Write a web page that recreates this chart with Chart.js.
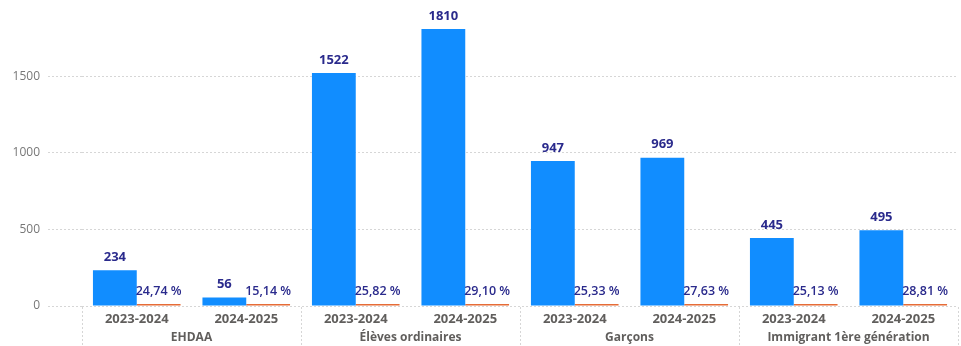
<!DOCTYPE html>
<html>
<head>
<meta charset="utf-8">
<script src="https://cdn.jsdelivr.net/npm/chart.js@4"></script>
<style>
  html, body { margin: 0; padding: 0; background: #ffffff; }
  #wrap { width: 961px; height: 346px; }
</style>
</head>
<body>
<div id="wrap"><canvas id="c" width="961" height="346"></canvas></div>
<script>
// Student counts and share per school year, by group
const years = ['2023-2024', '2024-2025', '2023-2024', '2024-2025', '2023-2024', '2024-2025', '2023-2024', '2024-2025'];
const groups = ['EHDAA', 'Élèves ordinaires', 'Garçons', 'Immigrant 1ère génération'];
const counts = [234, 56, 1522, 1810, 947, 969, 445, 495];
const shares = [0.2474, 0.1514, 0.2582, 0.2910, 0.2533, 0.2763, 0.2513, 0.2881];
const yTicks = [0, 500, 1000, 1500];

const BLUE = '#118DFF';
const ORANGE = '#E66C37';
const LABEL = '#2a2a8c';
const AXIS = '#605E5C';
const GRID = '#d6d6d6';
const FONT = '"Open Sans", "Noto Sans", sans-serif';

const fmtShare = v => (v * 100).toFixed(2).replace('.', ',') + ' %';

// Value labels above each bar
const barLabels = {
  id: 'barLabels',
  afterDatasetsDraw(chart) {
    const ctx = chart.ctx;
    ctx.save();
    ctx.textAlign = 'center';
    ctx.textBaseline = 'middle';
    chart.data.datasets.forEach((ds, di) => {
      const meta = chart.getDatasetMeta(di);
      meta.data.forEach((bar, i) => {
        const isShare = di === 1;
        ctx.font = isShare ? '600 12.5px ' + FONT : 'bold 13px ' + FONT;
        ctx.fillStyle = LABEL;
        const text = isShare ? fmtShare(ds.data[i]) : String(ds.data[i]);
        ctx.fillText(text, bar.x, Math.min(bar.y, bar.base) - 13);
      });
    });
    ctx.restore();
  }
};

// Dotted separators between the outer category groups
const groupSeparators = {
  id: 'groupSeparators',
  afterDraw(chart) {
    const xs = chart.scales.x;
    const ctx = chart.ctx;
    const n = years.length;
    const step = (xs.right - xs.left) / n;
    const bottom = chart.chartArea.bottom;
    ctx.save();
    ctx.strokeStyle = GRID;
    ctx.lineWidth = 1;
    ctx.setLineDash([2, 2]);
    for (let g = 0; g <= groups.length; g++) {
      const idx = g * 2;
      const x = idx < n ? xs.getPixelForValue(idx) - step / 2 : xs.getPixelForValue(n - 1) + step / 2;
      const px = Math.round(x) + 0.5;
      ctx.beginPath();
      ctx.moveTo(px, bottom + 1);
      ctx.lineTo(px, chart.height);
      ctx.stroke();
    }
    ctx.restore();
  }
};

new Chart(document.getElementById('c'), {
  type: 'bar',
  data: {
    labels: years,
    datasets: [
      { label: 'Nombre', data: counts, backgroundColor: BLUE,
        categoryPercentage: 0.8, barPercentage: 1.0 },
      { label: 'Proportion', data: shares, backgroundColor: ORANGE,
        categoryPercentage: 0.8, barPercentage: 1.0, minBarLength: 2 }
    ]
  },
  options: {
    responsive: false,
    animation: false,
    layout: { padding: { top: 15, right: 3, left: 0, bottom: 0 } },
    plugins: {
      legend: { display: false },
      tooltip: { enabled: false }
    },
    scales: {
      y: {
        min: 0,
        max: 1900,
        afterBuildTicks: scale => { scale.ticks = yTicks.map(v => ({ value: v })); },
        afterFit: scale => { scale.width = 82; },
        ticks: {
          font: { family: FONT, size: 12 },
          color: '#777777',
          padding: 8,
          callback: v => String(v)
        },
        grid: {
          color: GRID,
          lineWidth: 1,
          drawTicks: true,
          tickLength: 34,
          tickColor: GRID,
          tickBorderDash: [2, 2]
        },
        border: { display: false, dash: [2, 2] }
      },
      x: {
        offset: true,
        afterFit: scale => { scale.height = 22; },
        ticks: {
          font: { family: FONT, size: 13, weight: 'bold' },
          color: AXIS,
          padding: 5,
          maxRotation: 0,
          autoSkip: false
        },
        grid: { display: false, drawTicks: false },
        border: { display: false }
      },
      x2: {
        type: 'category',
        labels: groups,
        position: 'bottom',
        offset: true,
        afterFit: scale => { scale.height = 18; },
        ticks: {
          font: { family: FONT, size: 12, weight: 'bold' },
          color: AXIS,
          padding: 2,
          maxRotation: 0,
          autoSkip: false
        },
        grid: { display: false, drawTicks: false },
        border: { display: false }
      }
    }
  },
  plugins: [barLabels, groupSeparators]
});
</script>
</body>
</html>
